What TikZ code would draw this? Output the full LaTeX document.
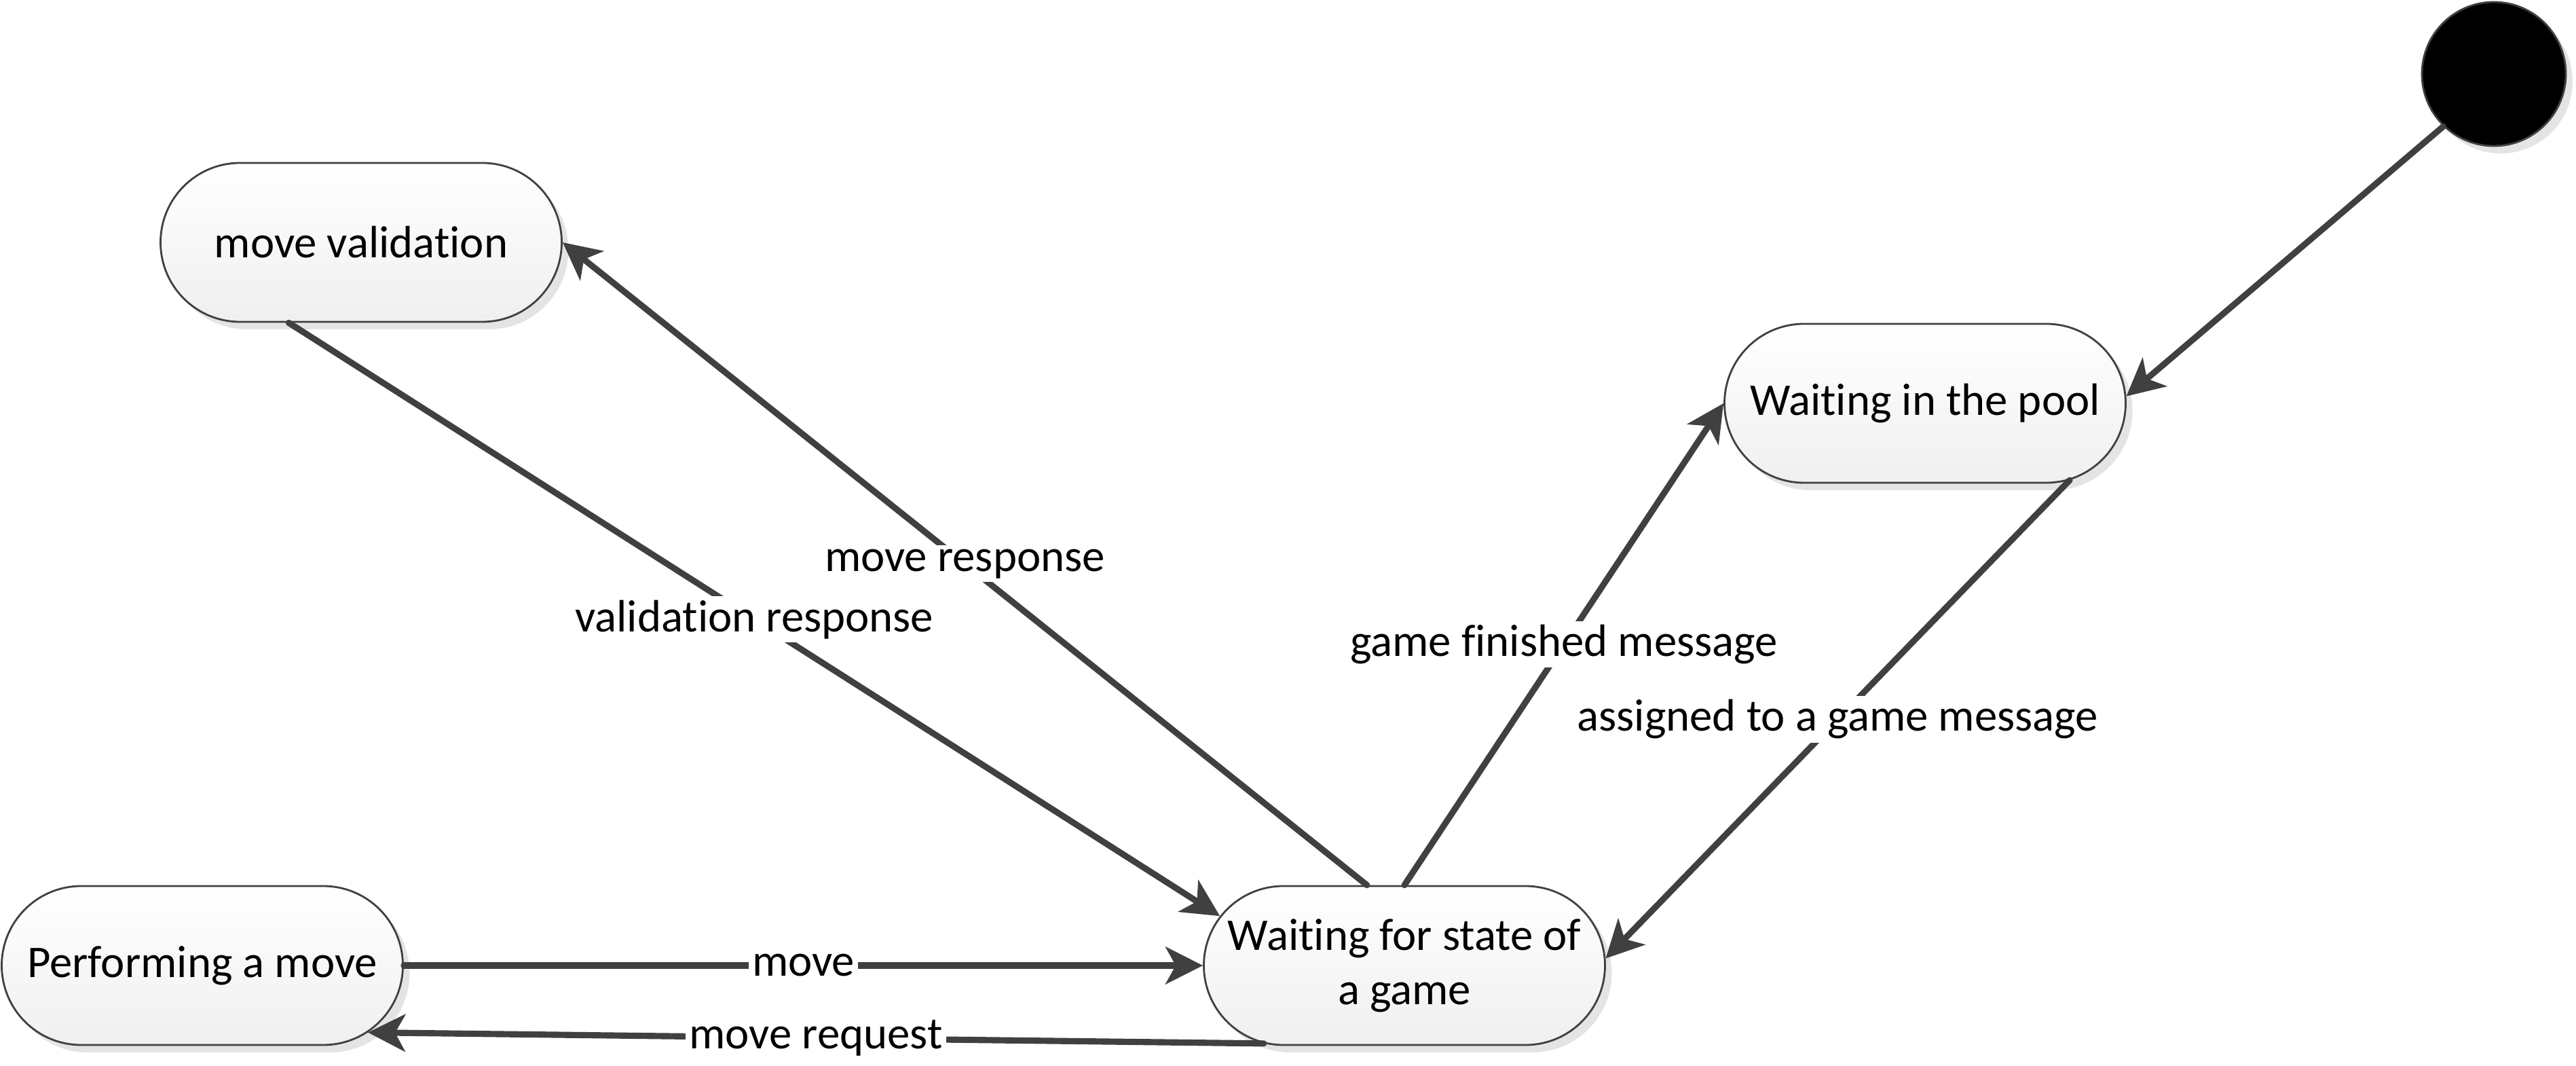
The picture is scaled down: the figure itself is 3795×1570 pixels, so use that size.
\documentclass[tikz,border=0pt]{standalone}
\usepackage{fontspec}
\setmainfont{Carlito}[Ligatures=NoCommon]
\usetikzlibrary{arrows.meta,shapes.misc,shadows}
\definecolor{linegray}{HTML}{404040}
\definecolor{shadowgray}{HTML}{E4E4E4}
\begin{document}
\begin{tikzpicture}[x=0.1mm,y=-0.1mm,
  every node/.style={font=\fontsize{19}{22.7}\selectfont},
  state/.style={rounded rectangle, rounded rectangle arc length=180,
    minimum width=59.1mm, minimum height=23.4mm, inner sep=0pt,
    draw=linegray, line width=0.8pt, top color=white, bottom color=black!6,
    align=center,
    drop shadow={shadow xshift=1mm, shadow yshift=-1.1mm, fill=shadowgray, opacity=1}},
  initstate/.style={circle, minimum size=21.2mm, inner sep=0pt, fill=black,
    draw=linegray, line width=0.8pt,
    drop shadow={shadow xshift=1mm, shadow yshift=-1.1mm, fill=shadowgray, opacity=1}},
  trans/.style={draw=linegray, line width=2.6pt, line cap=round,
    -{Stealth[length=5.5mm, width=5.5mm, inset=1.5mm]}},
  lbl/.style={fill=white, inner sep=1.5pt, text=black}]
\useasboundingbox (0,0) rectangle (3795,1570);

\node[state] (mv) at (532,357) {move validation};
\node[state] (pool) at (2836,594) {Waiting in the pool};
\node[state] (perf) at (298,1422) {Performing a move};
\node[state] (wfs) at (2069,1422) {Waiting for state of\\a game};
\node[initstate] (init) at (3674,109) {};

\draw[trans] (init.-134) -- (pool.2);
\draw[trans] (perf.east) -- node[lbl] {move} (wfs.west);
\draw[trans] (wfs.-151) -- node[lbl] {move request} (perf.-22);
\draw[trans] (mv.-132) -- node[lbl] {validation response} (wfs.165);
\draw[trans] (wfs.115.6) -- node[lbl] {move response} (mv.east);
\draw[trans] (wfs.north) -- node[lbl] {game finished message} (pool.west);
\draw[trans] (pool.-28) -- node[lbl] {assigned to a game message} (wfs.2.5);
\end{tikzpicture}
\end{document}
